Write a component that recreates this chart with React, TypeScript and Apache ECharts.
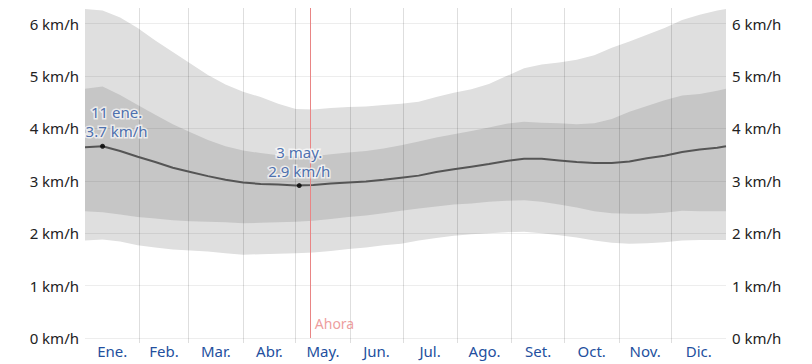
import React, { useEffect, useRef } from 'react';
import * as echarts from 'echarts';

// Day of year (0 = 1 Jan) and wind speed percentiles (km/h)
const days = [0, 10, 20, 30, 40, 50, 60, 70, 80, 90, 100, 110, 120, 130, 140, 150, 160, 170, 180, 190, 200, 210, 220, 230, 240, 250, 260, 270, 280, 290, 300, 310, 320, 330, 340, 350, 360, 365];
const p10 = [1.86, 1.88, 1.84, 1.77, 1.73, 1.69, 1.67, 1.65, 1.62, 1.59, 1.60, 1.61, 1.62, 1.63, 1.66, 1.70, 1.73, 1.77, 1.80, 1.86, 1.91, 1.95, 1.98, 2.00, 2.02, 2.03, 2.00, 1.96, 1.92, 1.86, 1.82, 1.80, 1.81, 1.83, 1.86, 1.87, 1.87, 1.87];
const p25 = [2.42, 2.40, 2.36, 2.31, 2.28, 2.25, 2.23, 2.22, 2.21, 2.19, 2.20, 2.21, 2.22, 2.24, 2.27, 2.31, 2.34, 2.38, 2.43, 2.47, 2.51, 2.55, 2.57, 2.60, 2.62, 2.63, 2.60, 2.55, 2.49, 2.42, 2.38, 2.37, 2.37, 2.39, 2.43, 2.42, 2.42, 2.42];
const median = [3.64, 3.66, 3.57, 3.46, 3.36, 3.25, 3.17, 3.09, 3.02, 2.97, 2.94, 2.93, 2.91, 2.92, 2.95, 2.97, 2.99, 3.02, 3.06, 3.10, 3.17, 3.22, 3.27, 3.32, 3.38, 3.42, 3.42, 3.39, 3.36, 3.34, 3.34, 3.37, 3.43, 3.48, 3.55, 3.60, 3.63, 3.66];
const p75 = [4.76, 4.80, 4.64, 4.45, 4.26, 4.08, 3.93, 3.78, 3.66, 3.58, 3.53, 3.49, 3.46, 3.47, 3.51, 3.54, 3.57, 3.62, 3.68, 3.75, 3.83, 3.89, 3.95, 4.02, 4.09, 4.13, 4.11, 4.10, 4.08, 4.10, 4.18, 4.32, 4.43, 4.54, 4.63, 4.66, 4.72, 4.76];
const p90 = [6.28, 6.25, 6.12, 5.92, 5.68, 5.46, 5.24, 5.02, 4.84, 4.70, 4.60, 4.47, 4.37, 4.36, 4.39, 4.41, 4.42, 4.45, 4.47, 4.51, 4.60, 4.68, 4.75, 4.85, 5.00, 5.15, 5.22, 5.26, 5.31, 5.40, 5.54, 5.66, 5.79, 5.92, 6.07, 6.17, 6.25, 6.28];

const monthNames = ['Ene.', 'Feb.', 'Mar.', 'Abr.', 'May.', 'Jun.', 'Jul.', 'Ago.', 'Set.', 'Oct.', 'Nov.', 'Dic.'];
const monthStarts = [0, 31, 59, 90, 120, 151, 181, 212, 243, 273, 304, 334, 365];
const yTicks = [0, 1, 2, 3, 4, 5, 6];
const yMax = 6.3;

const highlightDays = [10, 122];
const highlightValues = [3.66, 2.91];
const highlightDates = ['11 ene.', '3 may.'];
const highlightTexts = ['3.7 km/h', '2.9 km/h'];

const nowDay = 128;
const nowLabel = 'Ahora';
const nowLabelValue = 0.27;

const LIGHT = '#dfdfdf';
const DARK = '#c6c6c6';
const BLUE = '#234f9e';
const NOW = '#e98585';
const FONT = '"Noto Sans", sans-serif';

export default function App() {
  const ref = useRef<HTMLDivElement>(null);

  useEffect(() => {
    if (!ref.current) return;
    const chart = echarts.init(ref.current, undefined, { renderer: 'svg' });

    const monthMids = monthNames.map((_, i) => (monthStarts[i] + monthStarts[i + 1]) / 2);
    const pairs = (arr: number[]) => days.map((d, i) => [d, arr[i]]);
    const yFmt = (v: number) => (Math.abs(v - Math.round(v)) < 1e-6 ? `${Math.round(v)} km/h` : '');

    const band = (lo: number[], hi: number[], color: string) => ({
      type: 'custom',
      silent: true,
      z: 1,
      encode: { x: 0, y: [1, 2] },
      data: days.map((d, i) => [d, lo[i], hi[i]]),
      renderItem: (params: any, api: any) => {
        if (params.dataIndex !== 0) return null;
        const top = days.map((d, i) => api.coord([d, hi[i]]));
        const bottom = days.map((d, i) => api.coord([d, lo[i]])).reverse();
        return {
          type: 'polygon',
          shape: { points: top.concat(bottom) },
          style: { fill: color, stroke: null },
          silent: true,
        };
      },
    });

    const yAxisBase = {
      type: 'value',
      min: 0,
      max: yMax,
      interval: 1,
      axisLine: { show: false },
      axisTick: { show: false },
      splitLine: { show: false },
    };

    const option: any = {
      animation: false,
      textStyle: { fontFamily: FONT },
      grid: { left: 85, right: 86, top: 8, bottom: 26, containLabel: false },
      xAxis: {
        type: 'value',
        min: 0,
        max: 365,
        axisLine: { show: false },
        splitLine: { show: false },
        axisTick: {
          show: true,
          customValues: monthStarts.slice(1, -1),
          length: 5,
          lineStyle: { color: 'rgba(0,0,0,0.13)' },
        },
        axisLabel: {
          customValues: monthMids,
          formatter: (v: number) => {
            const i = monthMids.findIndex((m) => Math.abs(m - v) < 1e-6);
            return i >= 0 ? monthNames[i] : '';
          },
          color: BLUE,
          fontSize: 15,
          margin: 5,
          fontFamily: FONT,
        },
      },
      yAxis: [
        { ...yAxisBase, position: 'left', axisLabel: { formatter: yFmt, color: '#222', fontSize: 15, margin: 6, fontFamily: FONT } },
        { ...yAxisBase, position: 'right', axisLabel: { formatter: yFmt, color: '#222', fontSize: 15, margin: 6, fontFamily: FONT } },
      ],
      series: [
        band(p10, p90, LIGHT),
        band(p25, p75, DARK),
        {
          type: 'line',
          data: pairs(median),
          showSymbol: false,
          silent: true,
          lineStyle: { color: '#555', width: 2 },
          z: 3,
          markLine: {
            silent: true,
            symbol: 'none',
            z: 2,
            label: { show: false },
            lineStyle: { type: 'solid', width: 1 },
            data: [
              ...yTicks.map((v) => ({ yAxis: v, lineStyle: { color: 'rgba(0,0,0,0.07)', type: 'solid', width: 1 } })),
              ...monthStarts.slice(1, -1).map((d) => ({ xAxis: d, lineStyle: { color: 'rgba(0,0,0,0.13)', type: 'solid', width: 1 } })),
            ],
          },
        },
        {
          type: 'scatter',
          silent: true,
          symbolSize: 0,
          z: 4,
          data: [[nowDay, nowLabelValue]],
          label: {
            show: true,
            position: 'right',
            distance: 5,
            formatter: nowLabel,
            color: NOW,
            fontSize: 14,
            fontFamily: FONT,
          },
          markLine: {
            silent: true,
            symbol: 'none',
            z: 4,
            label: { show: false },
            lineStyle: { color: NOW, type: 'solid', width: 1 },
            data: [{ xAxis: nowDay }],
          },
        },
        {
          type: 'scatter',
          silent: true,
          symbolSize: 5,
          itemStyle: { color: '#000' },
          z: 5,
          data: highlightDays.map((d, i) => ({
            value: [d, highlightValues[i]],
            label: i === 0 ? { offset: [14, 0] } : {},
          })),
          label: {
            show: true,
            position: 'top',
            distance: 3,
            formatter: (p: any) => `${highlightDates[p.dataIndex]}\n${highlightTexts[p.dataIndex]}`,
            color: BLUE,
            fontSize: 15,
            lineHeight: 19,
            fontFamily: FONT,
            textBorderColor: 'rgba(255,255,255,0.85)',
            textBorderWidth: 3,
          },
        },
      ],
    };

    chart.setOption(option);
    return () => chart.dispose();
  }, []);

  return <div ref={ref} style={{ position: 'absolute', left: 0, top: 0, width: 812, height: 364 }} />;
}
